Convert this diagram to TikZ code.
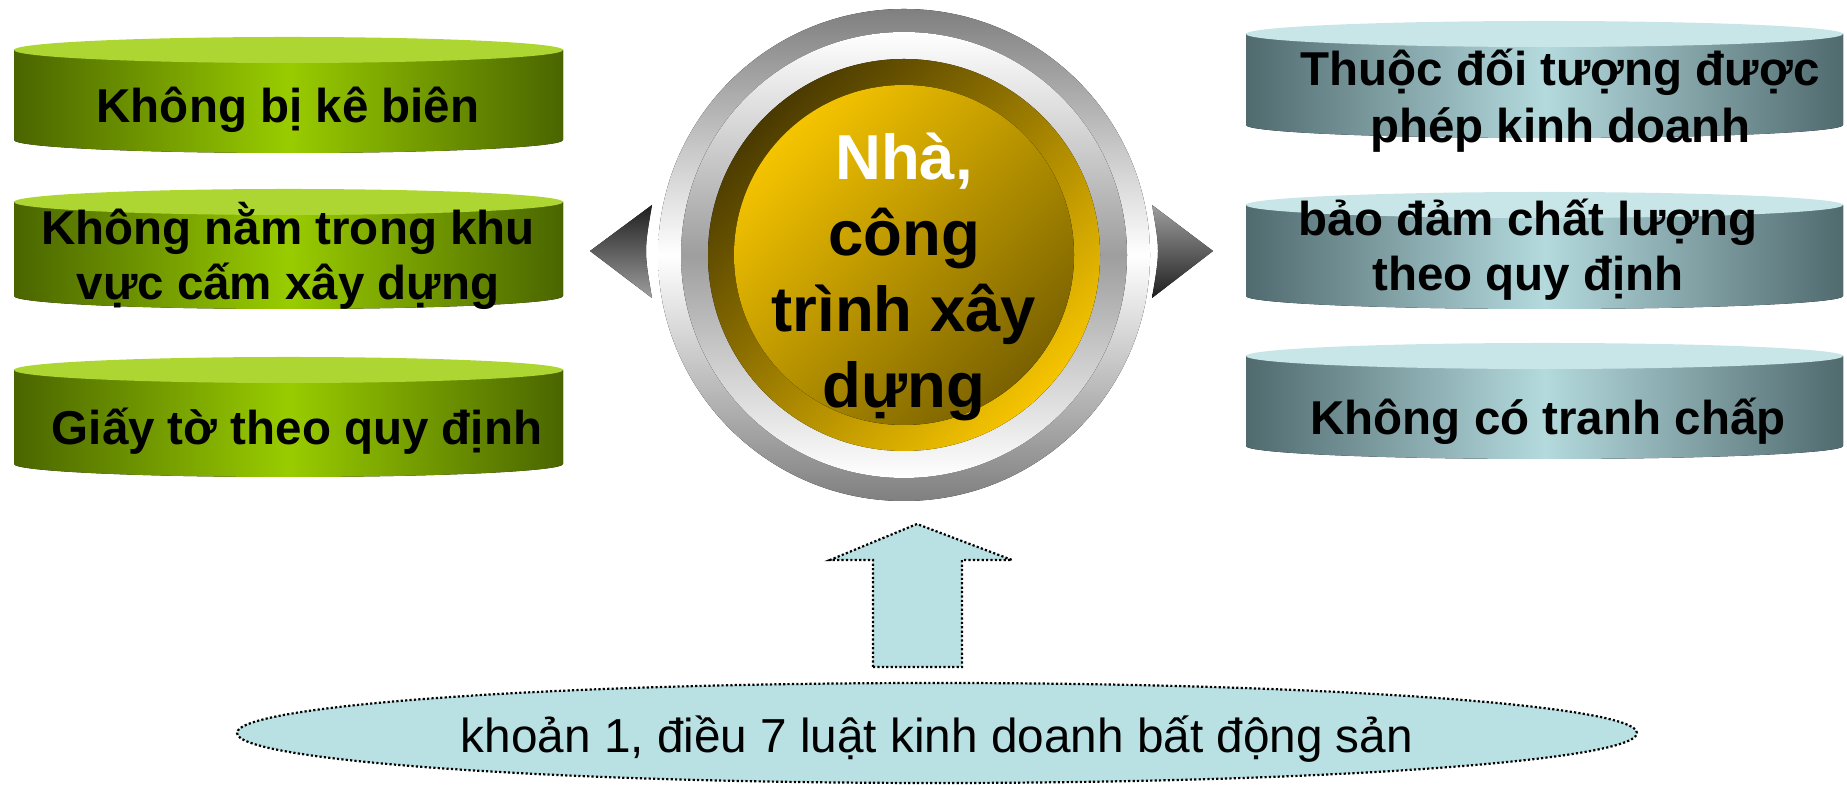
\documentclass[tikz,border=0pt]{standalone}
\usepackage{fontspec}
\setmainfont{Liberation Sans}
\usepackage{array}
\definecolor{gDark}{HTML}{4A6500}
\definecolor{gMid}{HTML}{99CC00}
\definecolor{gTop}{HTML}{ADD633}
\definecolor{cDark}{HTML}{506A6E}
\definecolor{cMid}{HTML}{B4DADE}
\definecolor{cTop}{HTML}{C8E6E8}
\definecolor{goldDark}{HTML}{4A3A00}
\definecolor{goldBright}{HTML}{F5C400}
\definecolor{goldInDark}{HTML}{7A6200}
\definecolor{lawFill}{HTML}{B9E0E3}
\newcommand\txtlines[1]{\begin{tabular}[t]{@{}c@{}}#1\end{tabular}}
\newcommand\sm[1]{\smash{#1}}
\newcommand\drawcyl[7]{%
  \pgfmathsetmacro\rxx{(#2-#1)/2}%
  \pgfmathsetmacro\cxx{(#2+#1)/2}%
  \fill[left color=#5, right color=#5, middle color=#6]
    (#1,#3) -- (#1,#4) arc[start angle=180, end angle=360, x radius=\rxx, y radius=13] -- (#2,#3) -- cycle;
  \fill[#7] (\cxx,#3) ellipse[x radius=\rxx, y radius=13];
}
\begin{document}
\begin{tikzpicture}[x=0.5pt, y=0.5pt,
  cyltxt/.style={anchor=base, inner sep=0pt, font=\fontsize{23.75}{27.5}\selectfont\bfseries},
  centertxt/.style={anchor=base, inner sep=0pt, font=\fontsize{31.75}{38}\selectfont\bfseries},
  lawtxt/.style={anchor=base, inner sep=0pt, font=\fontsize{23.85}{28}\selectfont},
  dotborder/.style={draw=black, dash pattern=on 1.1pt off 1.1pt, line width=1.1pt},
  blockarrow/.style={fill=lawFill, dotborder},
  lawshape/.style={fill=lawFill, dotborder}]
\useasboundingbox (0,0) rectangle (1847,785);

% left cylinders
\drawcyl{14}{563}{735}{645}{gDark}{gMid}{gTop}
\drawcyl{14}{563}{583}{489}{gDark}{gMid}{gTop}
\drawcyl{14}{563}{415}{321}{gDark}{gMid}{gTop}
% right cylinders
\drawcyl{1246}{1843}{751}{660}{cDark}{cMid}{cTop}
\drawcyl{1246}{1843}{580}{489}{cDark}{cMid}{cTop}
\drawcyl{1246}{1843}{429}{339}{cDark}{cMid}{cTop}

% side triangles
\fill[top color=black!88, bottom color=black!38] (590,534) -- (652,580) .. controls (644,534) .. (652,487) -- cycle;
\fill[top color=black!38, bottom color=black!88] (1213,534) -- (1152,580) .. controls (1160,534) .. (1152,487) -- cycle;

% central medallion
\coordinate (hub) at (904,530);
\fill[top color=black!50, bottom color=black!50, middle color=white] (hub) circle[radius=246];
\fill[top color=white, bottom color=white, middle color=black!38] (hub) circle[radius=223];
\fill[top color=goldDark, bottom color=goldBright, shading angle=45] (hub) circle[radius=196];
\fill[top color=goldBright, bottom color=goldInDark, shading angle=45] (hub) circle[radius=170];

% texts
\node[cyltxt] (l1) at (288,662) {Không bị kê biên};
\node[cyltxt] (l2) at (288,540) {\txtlines{\sm{Không nằm trong khu}\\ \sm{vực cấm xây dựng}}};
\node[cyltxt] (l3) at (297,340) {Giấy tờ theo quy định};
\node[cyltxt] (r1) at (1560,699) {\txtlines{\sm{Thuộc đối tượng được}\\[1pt] \sm{phép kinh doanh}}};
\node[cyltxt] (r2) at (1528,549) {\txtlines{\sm{bảo đảm chất lượng}\\ \sm{theo quy định}}};
\node[cyltxt] (r3) at (1548,350) {Không có tranh chấp};
\node[centertxt] (center) at (904,605) {\txtlines{\sm{\textcolor{white}{Nhà,}}\\ \sm{công}\\ \sm{trình xây}\\ \sm{dựng}}};

% bottom law ellipse and block arrow
\draw[lawshape] (937,52) ellipse[x radius=700, y radius=50];
\node[lawtxt] (law) at (937,32) {khoản 1, điều 7 luật kinh doanh bất động sản};
\draw[blockarrow] (873,118) -- (962,118) -- (962,225) -- (1012,225) -- (917,261) -- (830,225) -- (873,225) -- cycle;
\end{tikzpicture}
\end{document}
